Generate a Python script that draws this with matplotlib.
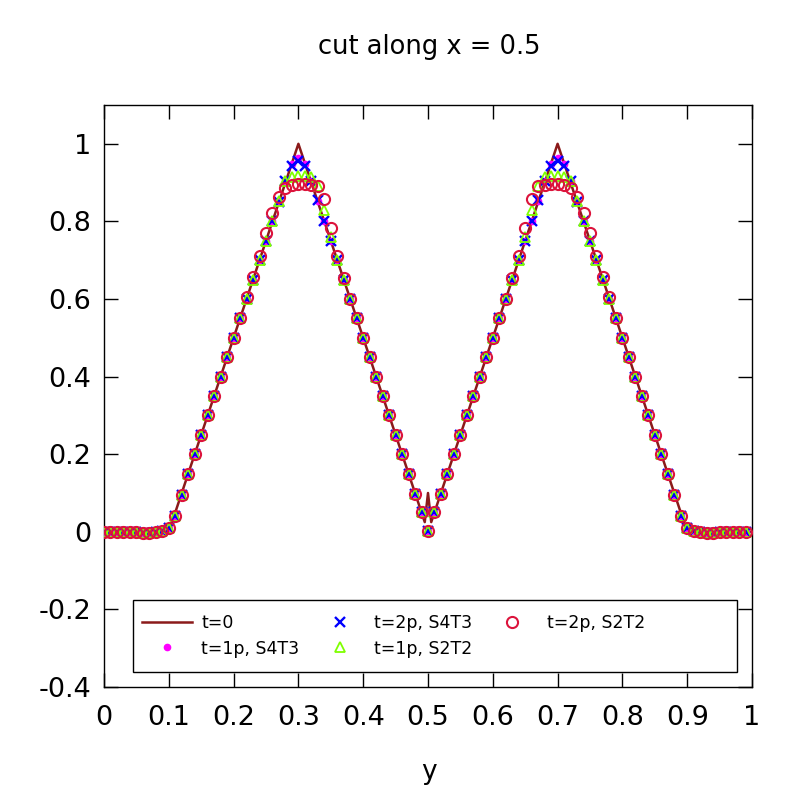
import matplotlib
matplotlib.use("Agg")
import matplotlib.pyplot as plt
from matplotlib.patches import Rectangle
import numpy as np

# t=0 reference line (breakpoints)
line_y_pos = [0.0, 0.1, 0.3, 0.495, 0.5, 0.505, 0.7, 0.9, 1.0]
line_val = [0.0, 0.0, 1.0, 0.025, 0.1, 0.025, 1.0, 0.0, 0.0]

# sample points of the numerical solutions
y_pos = np.round(np.arange(100) * 0.01, 2)

s4t3_1p = [
    0.0, 0.0, 0.0, 0.0, 0.0, 0.0, -0.003, -0.003, -0.001, 0.003,
    0.01, 0.042, 0.096, 0.148, 0.2, 0.25, 0.3, 0.35, 0.4, 0.45,
    0.5, 0.55, 0.6, 0.65, 0.7, 0.75, 0.8, 0.85, 0.905, 0.947,
    0.963, 0.947, 0.905, 0.853, 0.8, 0.75, 0.7, 0.65, 0.6, 0.55,
    0.5, 0.45, 0.4, 0.35, 0.3, 0.25, 0.2, 0.15, 0.098, 0.05,
    0.003, 0.05, 0.098, 0.15, 0.2, 0.25, 0.3, 0.35, 0.4, 0.45,
    0.5, 0.55, 0.6, 0.65, 0.7, 0.75, 0.8, 0.853, 0.905, 0.947,
    0.963, 0.947, 0.905, 0.85, 0.8, 0.75, 0.7, 0.65, 0.6, 0.55,
    0.5, 0.45, 0.4, 0.35, 0.3, 0.25, 0.2, 0.148, 0.096, 0.042,
    0.01, 0.003, -0.001, -0.003, -0.003, 0.0, 0.0, 0.0, 0.0, 0.0,
]

s4t3_2p = [
    0.0, 0.0, 0.0, 0.0, 0.0, 0.0, -0.003, -0.003, -0.001, 0.003,
    0.01, 0.042, 0.096, 0.148, 0.2, 0.25, 0.3, 0.35, 0.4, 0.45,
    0.5, 0.55, 0.6, 0.65, 0.7, 0.75, 0.8, 0.85, 0.905, 0.943,
    0.956, 0.943, 0.905, 0.855, 0.8, 0.75, 0.7, 0.65, 0.6, 0.55,
    0.5, 0.45, 0.4, 0.35, 0.3, 0.25, 0.2, 0.15, 0.098, 0.05,
    0.003, 0.05, 0.098, 0.15, 0.2, 0.25, 0.3, 0.35, 0.4, 0.45,
    0.5, 0.55, 0.6, 0.65, 0.7, 0.75, 0.8, 0.855, 0.905, 0.943,
    0.956, 0.943, 0.905, 0.85, 0.8, 0.75, 0.7, 0.65, 0.6, 0.55,
    0.5, 0.45, 0.4, 0.35, 0.3, 0.25, 0.2, 0.148, 0.096, 0.042,
    0.01, 0.003, -0.001, -0.003, -0.003, 0.0, 0.0, 0.0, 0.0, 0.0,
]

s2t2_1p = [
    0.0, 0.0, 0.0, 0.0, 0.0, 0.0, -0.003, -0.003, -0.001, 0.003,
    0.01, 0.042, 0.096, 0.148, 0.2, 0.25, 0.3, 0.35, 0.4, 0.45,
    0.5, 0.55, 0.6, 0.65, 0.7, 0.75, 0.8, 0.852, 0.905, 0.914,
    0.918, 0.918, 0.914, 0.89, 0.83, 0.76, 0.7, 0.65, 0.6, 0.55,
    0.5, 0.45, 0.4, 0.35, 0.3, 0.25, 0.2, 0.15, 0.098, 0.05,
    0.003, 0.05, 0.098, 0.15, 0.2, 0.25, 0.3, 0.35, 0.4, 0.45,
    0.5, 0.55, 0.6, 0.65, 0.7, 0.76, 0.83, 0.89, 0.914, 0.918,
    0.918, 0.914, 0.905, 0.852, 0.8, 0.75, 0.7, 0.65, 0.6, 0.55,
    0.5, 0.45, 0.4, 0.35, 0.3, 0.25, 0.2, 0.148, 0.096, 0.042,
    0.01, 0.003, -0.001, -0.003, -0.003, 0.0, 0.0, 0.0, 0.0, 0.0,
]

s2t2_2p = [
    0.0, 0.0, 0.0, 0.0, 0.0, 0.0, -0.003, -0.003, -0.001, 0.003,
    0.01, 0.042, 0.096, 0.148, 0.2, 0.25, 0.3, 0.35, 0.4, 0.45,
    0.5, 0.55, 0.605, 0.656, 0.712, 0.77, 0.822, 0.862, 0.886, 0.895,
    0.897, 0.897, 0.895, 0.89, 0.857, 0.783, 0.71, 0.655, 0.6, 0.55,
    0.5, 0.45, 0.4, 0.35, 0.3, 0.25, 0.2, 0.15, 0.098, 0.05,
    0.003, 0.05, 0.098, 0.15, 0.2, 0.25, 0.3, 0.35, 0.4, 0.45,
    0.5, 0.55, 0.6, 0.655, 0.71, 0.783, 0.857, 0.89, 0.895, 0.897,
    0.897, 0.895, 0.886, 0.862, 0.822, 0.77, 0.712, 0.656, 0.605, 0.55,
    0.5, 0.45, 0.4, 0.35, 0.3, 0.25, 0.2, 0.148, 0.096, 0.042,
    0.01, 0.003, -0.001, -0.003, -0.003, 0.0, 0.0, 0.0, 0.0, 0.0,
]

x_ticks = [0, 0.1, 0.2, 0.3, 0.4, 0.5, 0.6, 0.7, 0.8, 0.9, 1]
x_tick_labels = ["0", "0.1", "0.2", "0.3", "0.4", "0.5", "0.6", "0.7", "0.8", "0.9", "1"]
y_ticks = [-0.4, -0.2, 0, 0.2, 0.4, 0.6, 0.8, 1]
y_tick_labels = ["-0.4", "-0.2", "0", "0.2", "0.4", "0.6", "0.8", "1"]

plt.rcParams["font.family"] = ["DejaVu Sans"]

fig = plt.figure(figsize=(8, 8), dpi=100)
ax = fig.add_axes([0.13, 0.14125, 0.81, 0.7275])

ax.plot(line_y_pos, line_val, color="#8b1a1a", lw=1.8, label="t=0", zorder=2)
ax.plot(y_pos, s4t3_1p, ls="none", marker="o", ms=4.5, color="#ff00ff",
        mec="#ff00ff", label="t=1p, S4T3", zorder=3)
ax.plot(y_pos, s4t3_2p, ls="none", marker="x", ms=7.5, mew=1.7, color="#0000ff",
        label="t=2p, S4T3", zorder=4)
ax.plot(y_pos, s2t2_1p, ls="none", marker="^", ms=7, mew=1.3, mfc="none",
        color="#7fff00", label="t=1p, S2T2", zorder=5)
ax.plot(y_pos, s2t2_2p, ls="none", marker="o", ms=8, mew=1.5, mfc="none",
        color="#dc143c", label="t=2p, S2T2", zorder=6)

ax.set_xlim(0, 1)
ax.set_ylim(-0.4, 1.1)
ax.set_xticks(x_ticks)
ax.set_xticklabels(x_tick_labels)
ax.set_yticks(y_ticks)
ax.set_yticklabels(y_tick_labels)
ax.tick_params(direction="in", length=10, width=1, top=True, right=True,
               labelsize=19.5)
ax.tick_params(axis="x", pad=13)
ax.tick_params(axis="y", pad=9)
for sp in ax.spines.values():
    sp.set_linewidth(1)

# legend box
ax.add_patch(Rectangle((0.045, 0.026), 0.932, 0.123, transform=ax.transAxes,
                       facecolor="white", edgecolor="black", lw=1, zorder=7))
leg = ax.legend(loc="upper left", bbox_to_anchor=(0.058, 0.125), ncol=3,
                frameon=False, fontsize=12.5, borderpad=0, borderaxespad=0,
                handlelength=2.9, handletextpad=0.55, columnspacing=0.85,
                labelspacing=0.42)
leg.set_zorder(8)

fig.text(0.536, 1 - 47 / 800, "cut along x = 0.5", ha="center", va="center", fontsize=18.5)
fig.text(0.536, 1 - 772 / 800, "y", ha="center", va="center", fontsize=19)

fig.savefig("out.png", dpi=100)
plt.close(fig)
